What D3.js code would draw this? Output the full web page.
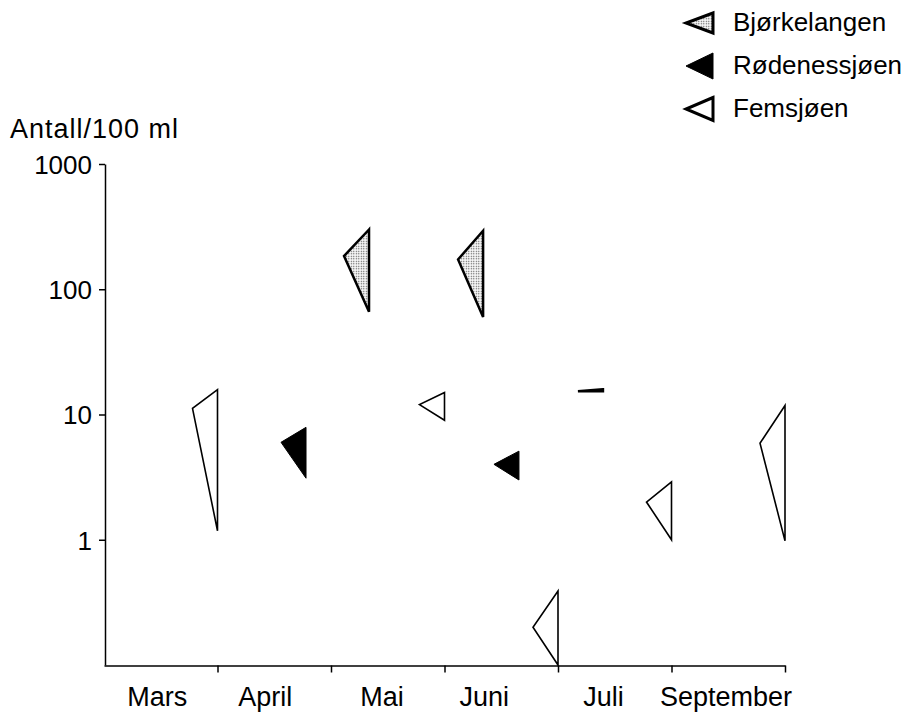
<!DOCTYPE html>
<html>
<head>
<meta charset="utf-8">
<script src="https://cdn.jsdelivr.net/npm/d3@7"></script>
<style>
  html, body { margin: 0; padding: 0; background: #fff; }
  svg { display: block; font-family: "Liberation Sans", Arial, Helvetica, sans-serif; }
</style>
</head>
<body>
<svg id="chart" width="906" height="715"></svg>
<script>
// ---- data ----
const months = ["Mars", "April", "Mai", "Juni", "Juli", "September"];
const monthLabelPos = [0.47, 1.42, 2.45, 3.35, 4.4, 5.48];
const monthBounds = [1, 2, 3, 4, 5, 6];
const yTicks = [1, 10, 100, 1000];
const lakes = ["Bjørkelangen", "Rødenessjøen", "Femsjøen"];

const obsLake = ["Femsjøen", "Rødenessjøen", "Bjørkelangen", "Femsjøen", "Bjørkelangen",
                 "Rødenessjøen", "Femsjøen", "Bjørkelangen", "Femsjøen", "Femsjøen"];
const obsTime = [1.0, 1.78, 2.335, 3.0, 3.34, 3.656, 4.0, 4.396, 5.0, 6.0];
const obsMax  = [15.8, 7.9, 300, 15, 293, 5.1, 0.39, 15.9, 2.9, 11.8];
const obsMean = [11.2, 6.0, 184, 12, 173, 4.0, 0.20, 15.3, 2.0, 5.9];
const obsMin  = [1.18, 3.1, 66, 9.0, 60, 3.0, 0.10, 15.3, 1.0, 0.98];

// ---- layout ----
const svg = d3.select("#chart");
const x = d3.scaleLinear().domain([0, 6]).range([104, 785]);
const y = d3.scaleLog().domain([0.1, 1000]).range([665, 164]);
const triW = 25;

const defs = svg.append("defs");
const pat = defs.append("pattern").attr("id", "stipple")
  .attr("patternUnits", "userSpaceOnUse").attr("width", 2.5).attr("height", 2.5);
pat.append("rect").attr("width", 2.5).attr("height", 2.5).attr("fill", "#fff");
pat.append("rect").attr("x", 0.7).attr("y", 0.7).attr("width", 1.2).attr("height", 1.2).attr("fill", "#444");

const style = {
  "Bjørkelangen": { fill: "url(#stipple)", stroke: "#000", sw: 2.5 },
  "Rødenessjøen": { fill: "#000", stroke: "#000", sw: 1 },
  "Femsjøen":     { fill: "#fff", stroke: "#000", sw: 1.6 }
};

// ---- axes ----
const xAxis = d3.axisBottom(x).tickValues(monthBounds).tickFormat("").tickSize(7).tickSizeOuter(0);
svg.append("g").attr("transform", "translate(0,665.5)").call(xAxis)
  .call(g => g.selectAll("path,line").attr("stroke", "#000").attr("stroke-width", 1.5));

svg.append("g").selectAll("text").data(months).join("text")
  .attr("x", (d, i) => x(monthLabelPos[i]))
  .attr("y", 706)
  .attr("text-anchor", "middle")
  .attr("font-size", 27)
  .text(d => d);

const yAxis = d3.axisLeft(y).tickValues(yTicks).tickFormat(d3.format("d")).tickSize(6).tickSizeOuter(0);
svg.append("g").attr("transform", "translate(105,0)").call(yAxis)
  .call(g => g.selectAll("path,line").attr("stroke", "#000").attr("stroke-width", 1.5))
  .call(g => g.selectAll("text").attr("font-size", 26).attr("fill", "#000")
      .attr("font-family", "'Liberation Sans', Arial, sans-serif").attr("x", -13).attr("dy", "0.36em"));

svg.append("text").attr("x", 10).attr("y", 137.5)
  .attr("font-size", 27).attr("letter-spacing", 1).text("Antall/100 ml");

// ---- triangles ----
const idx = d3.range(obsLake.length);
svg.append("g").selectAll("path").data(idx).join("path")
  .attr("d", i => {
    const xr = x(obsTime[i]);
    return `M${xr},${y(obsMax[i])}L${xr - triW},${y(obsMean[i])}L${xr},${y(obsMin[i])}Z`;
  })
  .attr("fill", i => style[obsLake[i]].fill)
  .attr("stroke", i => style[obsLake[i]].stroke)
  .attr("stroke-width", i => style[obsLake[i]].sw)
  .attr("stroke-linejoin", "miter");

// ---- legend ----
const lg = svg.append("g");
lakes.forEach((name, i) => {
  const base = 31 + i * 43;
  const cy = base - 8;
  const h = [10, 13, 11.5][i];
  lg.append("path")
    .attr("d", `M713,${cy - h}L686,${cy}L713,${cy + h}Z`)
    .attr("fill", style[name].fill)
    .attr("stroke", "#000")
    .attr("stroke-width", name === "Rødenessjøen" ? 1 : 3);
  lg.append("text").attr("x", 733).attr("y", base)
    .attr("font-size", 26).text(name);
});
</script>
</body>
</html>
